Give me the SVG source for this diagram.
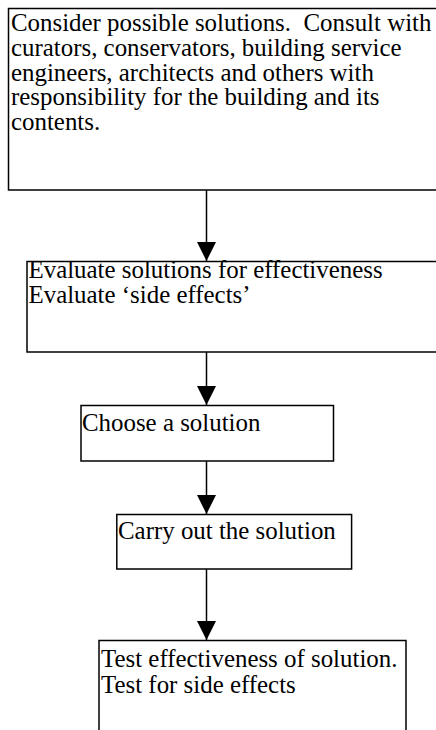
<svg xmlns="http://www.w3.org/2000/svg" width="436" height="730" viewBox="0 0 436 730">
<style>
.box{fill:#fff;stroke:#000;stroke-width:1.5}
.t{font-family:'Liberation Serif','Times New Roman',serif;font-size:24.9px;fill:#000;white-space:pre}
.c{stroke:#000;stroke-width:1.5;fill:none}
</style>
<defs>
<marker id="ah" markerWidth="20" markerHeight="20" refX="19" refY="9.5" orient="auto" markerUnits="userSpaceOnUse">
<path d="M0,0 L19,9.5 L0,19 z" fill="#000"/>
</marker>
</defs>
<rect width="436" height="730" fill="#fff"/>
<g id="connectors">
<line class="c" x1="206.5" y1="190" x2="206.5" y2="261" marker-end="url(#ah)"/>
<line class="c" x1="206.5" y1="352" x2="206.5" y2="405" marker-end="url(#ah)"/>
<line class="c" x1="206.5" y1="461" x2="206.5" y2="514" marker-end="url(#ah)"/>
<line class="c" x1="206.5" y1="569" x2="206.5" y2="640" marker-end="url(#ah)"/>
</g>
<g id="n1">
<rect class="box" x="8.5" y="8.5" width="440" height="181.5"/>
<text class="t" x="11" y="31" xml:space="preserve">Consider possible solutions.  Consult with</text>
<text class="t" x="11" y="55.8">curators, conservators, building service</text>
<text class="t" x="11" y="80.6">engineers, architects and others with</text>
<text class="t" x="11" y="105.4">responsibility for the building and its</text>
<text class="t" x="11" y="130.2">contents.</text>
</g>
<g id="n2">
<rect class="box" x="27" y="261.5" width="420" height="90.5"/>
<text class="t" x="28.5" y="278">Evaluate solutions for effectiveness</text>
<text class="t" x="28.5" y="302.8">Evaluate ‘side effects’</text>
</g>
<g id="n3">
<rect class="box" x="81" y="405.5" width="252.5" height="55.5"/>
<text class="t" x="82" y="431">Choose a solution</text>
</g>
<g id="n4">
<rect class="box" x="116.8" y="514.5" width="234.8" height="54.5"/>
<text class="t" x="118" y="539">Carry out the solution</text>
</g>
<g id="n5">
<rect class="box" x="99" y="640.5" width="307" height="100"/>
<text class="t" x="101" y="666.5">Test effectiveness of solution.</text>
<text class="t" x="101" y="693">Test for side effects</text>
</g>
</svg>
